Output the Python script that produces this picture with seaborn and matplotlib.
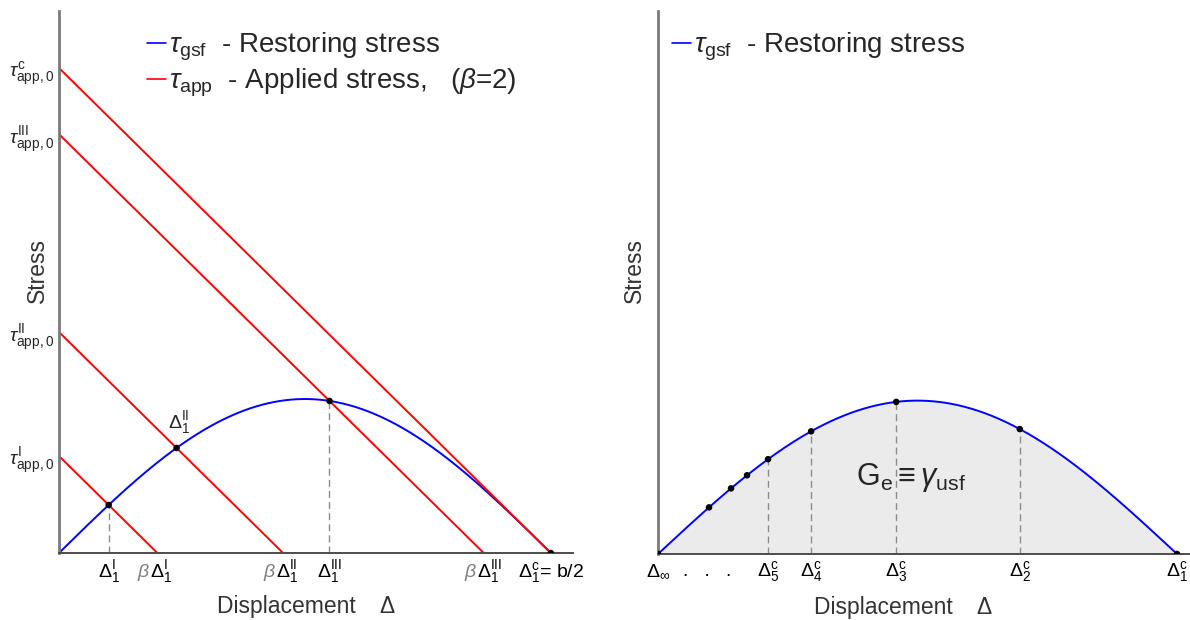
import numpy as np
import matplotlib
matplotlib.use("Agg")
import matplotlib.pyplot as plt
import seaborn as sns
from matplotlib.lines import Line2D

sns.set_theme(style="white")
plt.rcParams["font.family"] = ["Liberation Sans", "DejaVu Sans"]
plt.rcParams["mathtext.fontset"] = "custom"
plt.rcParams["mathtext.rm"] = "Liberation Sans"
plt.rcParams["mathtext.it"] = "Liberation Sans:italic"
plt.rcParams["mathtext.bf"] = "Liberation Sans:bold"
plt.rcParams["mathtext.fallback"] = "stixsans"

# Displacement is normalised by b/2; stress by the peak restoring stress.
tau_max = 1.0
# Applied-stress lines: common slope and their intercepts tau_app,0
app_slope = 3.15
app_intercepts = [0.63, 1.435, 2.72, 3.15]
app_names = ["I", "II", "III", "c"]
beta = 2
# Critical displacements Delta_n^c (right panel), from Delta_1^c down to Delta_inf
crit_delta = [1.0, 0.697, 0.459, 0.295, 0.212, 0.1715, 0.1407, 0.0983, 0.0]
crit_names = ["1", "2", "3", "4", "5"]

BLUE = "#0000ff"
RED = "#ff0000"
DASH_GREY = "#8c8c8c"
FS_TICK = 14
FS_LABEL = 16.5
FS_LEG = 20

fig = plt.figure(figsize=(11.9, 6.2), dpi=100)
W, H = 1190, 620
ax1 = fig.add_axes([59 / W, (H - 553) / H, 514 / W, 542 / H])
ax2 = fig.add_axes([658 / W, (H - 554) / H, 532 / W, 543 / H])


def restoring(x):
    return tau_max * np.sin(np.pi * np.asarray(x))


def style_axes(ax, xmax, ymax):
    ax.set_xlim(0, xmax)
    ax.set_ylim(0, ymax)
    for side in ("top", "right"):
        ax.spines[side].set_visible(False)
    ax.spines["left"].set_color("#7a7a7a")
    ax.spines["left"].set_linewidth(2.0)
    ax.spines["bottom"].set_color("#4d4d4d")
    ax.spines["bottom"].set_linewidth(1.4)
    ax.set_xticks([])
    ax.tick_params(axis="both", length=0)


def xlab(ax, x, text, dx=0, ha="center", color="black", drop=23):
    ax.annotate(text, xy=(x, 0), xycoords=ax.get_xaxis_transform(),
                xytext=(dx * 0.72, -drop * 0.72), textcoords="offset points",
                ha=ha, va="baseline", fontsize=FS_TICK, color=color,
                annotation_clip=False)


def axis_titles(ax, xc, yx):
    ax.set_xlabel("Displacement    Δ", fontsize=FS_LABEL, color="#333333",
                  visible=True)
    ax.xaxis.set_label_coords(xc, -0.077)
    ax.set_ylabel("Stress", fontsize=FS_LABEL, color="#333333", visible=True)
    ax.yaxis.set_label_coords(yx, 0.522)


# ---------------- left panel: restoring vs applied stress ----------------
style_axes(ax1, 1.045, 3.52)
xs = np.linspace(0, 1, 500)
sns.lineplot(x=xs, y=restoring(xs), color=BLUE, lw=1.4, ax=ax1,
             sort=False, estimator=None)

cross_x = []
for c in app_intercepts:
    x0 = c / app_slope
    lx = np.array([0.0, x0])
    sns.lineplot(x=lx, y=c - app_slope * lx, color=RED, lw=1.4, ax=ax1,
                 sort=False, estimator=None)
    # first crossing of applied and restoring stress
    d = restoring(xs) - (c - app_slope * xs)
    cross_x.append(float(np.interp(0.0, d, xs)) if d[-1] > 1e-9 else 1.0)

cross_x = np.array(cross_x)
cross_y = restoring(cross_x)
cross_y[-1] = 0.0
for i in (0, 2):
    ax1.plot([cross_x[i], cross_x[i]], [0, cross_y[i]], color=DASH_GREY,
             lw=1.0, ls=(0, (5, 3)))
sns.scatterplot(x=cross_x, y=cross_y, color="black", s=22, ax=ax1,
                edgecolor="none", zorder=5)

ax1.set_yticks(app_intercepts)
ax1.set_yticklabels([r"$\tau^{\mathrm{%s}}_{\mathrm{app,0}}$" % n for n in app_names],
                    fontsize=14)

ax1.annotate(r"$\Delta_1^{\mathrm{II}}$", xy=(cross_x[1], cross_y[1]),
             xytext=(2, 14), textcoords="offset points", ha="center",
             va="baseline", fontsize=FS_TICK)

xlab(ax1, cross_x[0], r"$\Delta_1^{\mathrm{I}}$", drop=24)
xlab(ax1, cross_x[2], r"$\Delta_1^{\mathrm{III}}$", drop=24)
for c, n in zip(app_intercepts[:3], app_names[:3]):
    x0 = c / app_slope
    xlab(ax1, x0, r"$\beta$", dx=-7, ha="right", color="#7f7f7f", drop=24)
    xlab(ax1, x0, r"$\Delta_1^{\mathrm{%s}}$" % n, dx=-7, ha="left", drop=24)
xlab(ax1, 1.0, r"$\Delta_1^{\mathrm{c}}$= b/2", drop=24)

axis_titles(ax1, 0.48, -0.020)

leg_handles = [Line2D([], [], color=BLUE, lw=1.2), Line2D([], [], color=RED, lw=1.2)]
ax1.legend(leg_handles,
           [r"$\tau_{\mathrm{gsf}}$  - Restoring stress",
            r"$\tau_{\mathrm{app}}$  - Applied stress,   ($\beta$=2)"],
           loc="upper left", bbox_to_anchor=(0.171, 0.964), frameon=False,
           fontsize=FS_LEG, handlelength=0.7, handletextpad=0.1,
           borderaxespad=0, borderpad=0, labelspacing=0.15)

# ---------------- right panel: critical displacements ----------------
style_axes(ax2, 1.025, 3.54)
ax2.fill_between(xs, 0, restoring(xs), color="#ebebeb", lw=0)
sns.lineplot(x=xs, y=restoring(xs), color=BLUE, lw=1.4, ax=ax2,
             sort=False, estimator=None)
crit = np.array(crit_delta)
for xc in crit[1:5]:
    ax2.plot([xc, xc], [0, restoring(xc)], color=DASH_GREY, lw=1.0,
             ls=(0, (5, 3)))
sns.scatterplot(x=crit, y=restoring(crit), color="black", s=22, ax=ax2,
                edgecolor="none", zorder=5)
ax2.set_yticks([])

for xc, n in zip(crit[:5], crit_names):
    xlab(ax2, xc, r"$\Delta_{%s}^{\mathrm{c}}$" % n, drop=22)
xlab(ax2, crit[-1], r"$\Delta_{\infty}$", drop=22)
xlab(ax2, 0.094, ".   .   .", drop=22)

ax2.text(0.487, 0.45, r"$\mathrm{G_e} \equiv \gamma_{\mathrm{usf}}$",
         ha="center", va="baseline", fontsize=22)

axis_titles(ax2, 0.46, -0.022)

ax2.legend([Line2D([], [], color=BLUE, lw=1.2)],
           [r"$\tau_{\mathrm{gsf}}$  - Restoring stress"],
           loc="upper left", bbox_to_anchor=(0.026, 0.964), frameon=False,
           fontsize=FS_LEG, handlelength=0.7, handletextpad=0.1,
           borderaxespad=0, borderpad=0)

fig.savefig("out.png", dpi=100)
